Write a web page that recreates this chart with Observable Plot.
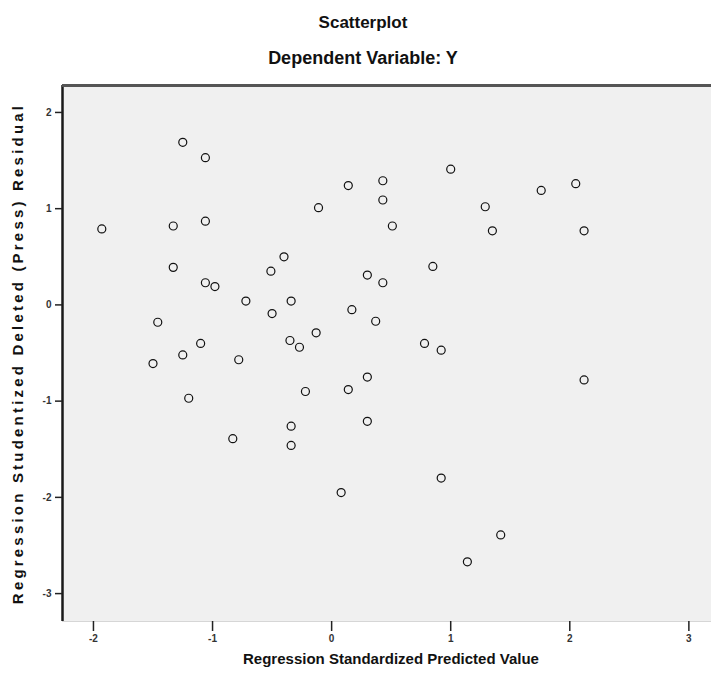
<!DOCTYPE html>
<html><head><meta charset="utf-8">
<script src="https://cdn.jsdelivr.net/npm/d3@7"></script>
<script src="https://cdn.jsdelivr.net/npm/@observablehq/plot@0.6"></script>
<style>
body{margin:0;background:#fff;width:711px;height:685px;position:relative;overflow:hidden;font-family:"Liberation Sans",Arial,sans-serif}
.t{position:absolute;left:0;width:726px;text-align:center;font-weight:bold;color:#111;line-height:1}
#chart{position:absolute;left:0;top:0}
</style></head><body>
<div id="chart"></div>
<div class="t" style="top:14px;font-size:17px">Scatterplot</div>
<div class="t" style="top:49px;font-size:18px">Dependent Variable: Y</div>
<script>
const predicted = [-1.93,-1.25,-1.06,-1.33,-1.06,-1.33,-1.06,-0.98,-0.72,-0.51,-0.40,-0.34,-0.50,-0.11,0.14,0.43,0.43,0.51,0.30,0.43,0.17,0.37,-1.46,-0.13,-1.10,-0.35,-0.27,-1.25,-1.50,-0.78,0.30,-0.22,0.14,-1.20,-0.34,0.30,-0.34,-0.83,0.08,1.00,1.76,2.05,1.29,1.35,2.12,0.85,0.78,0.92,2.12,0.92,1.42,1.14];
const residual = [0.79,1.69,1.53,0.82,0.87,0.39,0.23,0.19,0.04,0.35,0.50,0.04,-0.09,1.01,1.24,1.29,1.09,0.82,0.31,0.23,-0.05,-0.17,-0.18,-0.29,-0.40,-0.37,-0.44,-0.52,-0.61,-0.57,-0.75,-0.90,-0.88,-0.97,-1.26,-1.21,-1.46,-1.39,-1.95,1.41,1.19,1.26,1.02,0.77,0.77,0.40,-0.40,-0.47,-0.78,-1.80,-2.39,-2.67];
const xTicks = [-2,-1,0,1,2,3];
const yTicks = [2,1,0,-1,-2,-3];
const xLabel = "Regression Standardized Predicted Value";
const yLabel = "Regression Studentized Deleted (Press) Residual";
const xDomain = [-2.26, 3.19];
const yDomain = [-3.29, 2.28];

const data = predicted.map((x, i) => ({x, y: residual[i]}));
const fmt = d => String(d);
const plot = Plot.plot({
  width: 711, height: 685,
  marginTop: 85, marginLeft: 62, marginRight: 0, marginBottom: 64,
  style: {background: "transparent", fontFamily: "Liberation Sans, Arial, sans-serif", fontSize: "10px", overflow: "visible"},
  x: {domain: xDomain, label: null},
  y: {domain: yDomain, label: null},
  marks: [
    Plot.frame({fill: "#f0f0f0", stroke: "#d6d6d6"}),
    Plot.ruleX([xDomain[0]], {stroke: "#1a1a1a", strokeWidth: 2.5}),
    Plot.ruleY([yDomain[1]], {stroke: "#555", strokeWidth: 3}),
    Plot.axisX(xTicks, {tickSize: 10, tickPadding: 3, tickFormat: fmt, fontWeight: "bold", fill: "#333", stroke: "#222", strokeWidth: 1.5, label: null}),
    Plot.axisY(yTicks, {tickSize: 7, tickPadding: 4, tickFormat: fmt, fontWeight: "bold", fill: "#333", stroke: "#222", strokeWidth: 1.5, label: null}),
    Plot.text([xLabel], {frameAnchor: "bottom", dy: 42, dx: 4, fontSize: 15, fontWeight: "bold", fill: "#111"}),
    Plot.text([yLabel], {frameAnchor: "left", textAnchor: "middle", rotate: -90, dx: -44, fontSize: 15, fontWeight: "bold", fill: "#111"}),
    Plot.dot(data, {x: "x", y: "y", r: 4, stroke: "#111", strokeWidth: 1.2, fill: "none"})
  ]
});
document.getElementById("chart").appendChild(plot);
d3.select(plot).selectAll("text").filter(function(){ return this.textContent === yLabel; }).style("letter-spacing", "3.2px");
</script>
</body></html>
